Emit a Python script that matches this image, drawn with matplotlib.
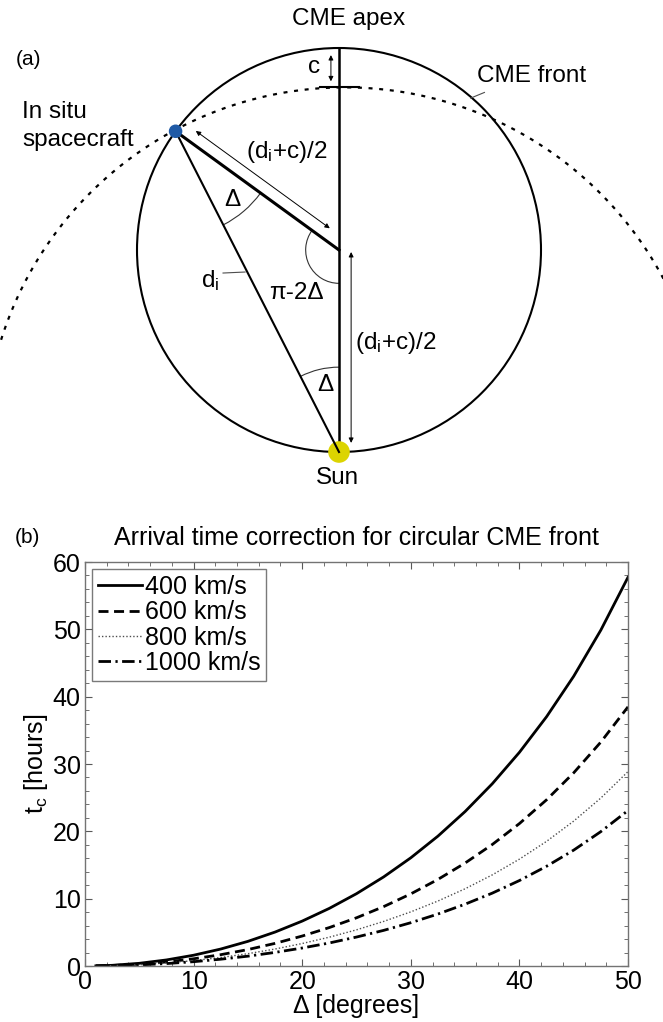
import numpy as np
import matplotlib
matplotlib.use("Agg")
import matplotlib.pyplot as plt
from matplotlib.patches import Arc, Circle

plt.rcParams['font.family'] = ['Liberation Sans', 'DejaVu Sans']
plt.rcParams['mathtext.fontset'] = 'custom'
plt.rcParams['mathtext.rm'] = 'Liberation Sans'
plt.rcParams['mathtext.it'] = 'Liberation Sans:italic'

# arrival time correction t_c [hours] vs angle delta [deg]
delta_deg = [1, 2.5, 5, 7.5, 10, 12.5, 15, 17.5, 20, 22.5, 25, 27.5,
             30, 32.5, 35, 37.5, 40, 42.5, 45, 47.5, 50]
tc_400 = [0.02, 0.10, 0.40, 0.90, 1.60, 2.52, 3.66, 5.04, 6.67, 8.56, 10.74,
          13.23, 16.07, 19.29, 22.94, 27.06, 31.73, 37.02, 43.03, 49.89, 57.73]
tc_600 = [0.01, 0.07, 0.27, 0.60, 1.07, 1.68, 2.44, 3.36, 4.45, 5.71, 7.16,
          8.82, 10.71, 12.86, 15.29, 18.04, 21.15, 24.68, 28.69, 33.26, 38.49]
tc_800 = [0.01, 0.05, 0.20, 0.45, 0.80, 1.26, 1.83, 2.52, 3.34, 4.28, 5.37,
          6.62, 8.04, 9.65, 11.47, 13.53, 15.87, 18.51, 21.52, 24.95, 28.87]
tc_1000 = [0.01, 0.04, 0.16, 0.36, 0.64, 1.01, 1.46, 2.02, 2.67, 3.42, 4.30,
           5.29, 6.43, 7.72, 9.18, 10.82, 12.69, 14.81, 17.21, 19.96, 23.09]
speed_labels = ['400 km/s', '600 km/s', '800 km/s', '1000 km/s']

# geometry of the sketch (units of the circle radius, Sun at origin)
sketch_delta = 27.0
c_gap = 0.195
front_center = (0.03, 0.02)
front_radius = 1.785

W, H = 663, 1022
fig = plt.figure(figsize=(W / 100, H / 100), dpi=100)

# ---------------- (a) sketch ----------------
S = 202.0  # pixels per unit
ax0 = fig.add_axes([0, 1 - 510 / H, 1, 510 / H])
ax0.set_xlim(-339 / S, (W - 339) / S)
ax0.set_ylim((452 - 510) / S, 452 / S)
ax0.axis('off')

d = np.radians(sketch_delta)
sc = np.array([-np.sin(2 * d), 1 + np.cos(2 * d)])
ctr = np.array([0.0, 1.0])
sun = np.array([0.0, 0.0])

ax0.add_patch(Circle(ctr, 1.0, fill=False, lw=1.5, color='k'))
ax0.plot([0, 0], [0, 2], color='k', lw=1.8, zorder=2)
ax0.plot([sc[0], sun[0]], [sc[1], sun[1]], color='k', lw=1.5, zorder=4)
ax0.plot([sc[0], ctr[0]], [sc[1], ctr[1]], color='k', lw=2.2, zorder=4)

# CME front (dotted arc)
th = np.radians(np.linspace(28, 163, 300))
ax0.plot(front_center[0] + front_radius * np.cos(th),
         front_center[1] + front_radius * np.sin(th),
         color='k', lw=1.6, ls=(0, (1.8, 3.0)))
ytop = 2 - c_gap
ax0.plot([-0.095, 0.1], [ytop, ytop], color='k', lw=1.5)

# angle marks
a1 = np.degrees(np.arctan2(-sc[1], -sc[0]))
a2 = np.degrees(np.arctan2(ctr[1] - sc[1], ctr[0] - sc[0]))
ax0.add_patch(Arc(sc, 1.04, 1.04, theta1=a1, theta2=a2, lw=0.8, color='0.2'))
ax0.add_patch(Arc(ctr, 0.33, 0.33, theta1=90 + 2 * sketch_delta, theta2=270,
                  lw=0.8, color='0.2'))
ax0.add_patch(Arc(sun, 0.84, 0.84, theta1=90, theta2=90 + sketch_delta,
                  lw=0.8, color='0.2'))

# dimension arrows
arrow = dict(arrowstyle='<|-|>', lw=0.7, color='k', mutation_scale=7,
             shrinkA=0, shrinkB=0)
u = (ctr - sc) / np.linalg.norm(ctr - sc)
n = np.array([-u[1], u[0]])
if n[1] < 0:
    n = -n
p0 = sc + 0.08 * u + 0.06 * n
p1 = ctr - 0.1 * u + 0.06 * n
ax0.annotate('', xy=p1, xytext=p0, arrowprops=arrow)
ax0.annotate('', xy=(0.06, 0.045), xytext=(0.06, 0.99), arrowprops=arrow)
ax0.annotate('', xy=(-0.04, ytop + 0.03), xytext=(-0.04, 1.965), arrowprops=arrow)

# leader lines
ax0.plot([-0.574, -0.465], [0.886, 0.891], color='0.3', lw=0.8)
ax0.plot([0.652, 0.72], [1.752, 1.78], color='0.3', lw=0.8)

ax0.add_patch(Circle(sun, 0.05, color='#dcd400', zorder=3))
ax0.add_patch(Circle(sc, 0.03, color='#1f5aa6', zorder=5))

fs = 17.5
ax0.text(0.045, 2.144, 'CME apex', fontsize=fs, ha='center', va='center')
ax0.text(-1.535, 1.941, '(a)', fontsize=15, ha='center', va='center')
ax0.text(-0.124, 1.906, 'c', fontsize=fs, ha='center', va='center')
ax0.text(0.955, 1.861, 'CME front', fontsize=fs, ha='center', va='center')
ax0.text(-1.569, 1.683, 'In situ', fontsize=fs, ha='left', va='center')
ax0.text(-1.569, 1.545, 'spacecraft', fontsize=fs, ha='left', va='center')
ax0.text(-0.257, 1.485, r'(d$_\mathrm{i}$+c)/2', fontsize=fs, ha='center', va='center')
ax0.text(-0.530, 1.248, 'Δ', fontsize=fs, ha='center', va='center')
ax0.text(-0.639, 0.851, r'd$_\mathrm{i}$', fontsize=fs, ha='center', va='center')
ax0.text(-0.213, 0.787, 'π-2Δ', fontsize=fs, ha='center', va='center')
ax0.text(0.079, 0.540, r'(d$_\mathrm{i}$+c)/2', fontsize=fs, ha='left', va='center')
ax0.text(-0.069, 0.332, 'Δ', fontsize=fs, ha='center', va='center')
ax0.text(-0.01, -0.129, 'Sun', fontsize=fs, ha='center', va='center')

# ---------------- (b) arrival time correction ----------------
ax = fig.add_axes([85 / W, 56 / H, 543 / W, 404 / H])
ax.plot(delta_deg, tc_400, color='k', lw=2.0, label=speed_labels[0])
ax.plot(delta_deg, tc_600, color='k', lw=2.0, ls=(0, (3.6, 2.0)), label=speed_labels[1])
ax.plot(delta_deg, tc_800, color='0.3', lw=1.0, ls=(0, (1, 1.5)), label=speed_labels[2])
ax.plot(delta_deg, tc_1000, color='k', lw=2.0, ls=(0, (4.5, 1.6, 0.8, 1.6)),
        label=speed_labels[3])

ax.set_xlim(0, 50)
ax.set_ylim(0, 60)
ax.set_xticks(np.arange(0, 51, 10))
ax.set_yticks(np.arange(0, 61, 10))
ax.set_xticks(np.arange(0, 51, 2), minor=True)
ax.set_yticks(np.arange(0, 61, 2), minor=True)
ax.tick_params(which='both', direction='in', top=True, right=True,
               color='0.35', labelsize=18, pad=3)
ax.tick_params(which='major', length=5)
ax.tick_params(which='minor', length=3)
for s in ax.spines.values():
    s.set_color('0.45')
    s.set_linewidth(1.0)

ax.set_xlabel('Δ [degrees]', fontsize=18, labelpad=0)
ax.set_ylabel(r't$_\mathrm{c}$ [hours]', fontsize=18, labelpad=2)
ax.set_title('Arrival time correction for circular CME front', fontsize=18, pad=12)
fig.text(27 / W, 1 - 537 / H, '(b)', fontsize=15, ha='center', va='center')

leg = ax.legend(loc='upper left', bbox_to_anchor=(0.013, 0.983), fontsize=18,
                frameon=True, fancybox=False, borderpad=0.25, labelspacing=0.05,
                handlelength=1.75, handletextpad=0.1, borderaxespad=0)
leg.get_frame().set_edgecolor('0.35')
leg.get_frame().set_linewidth(1.0)

fig.savefig('out.png', dpi=100)
